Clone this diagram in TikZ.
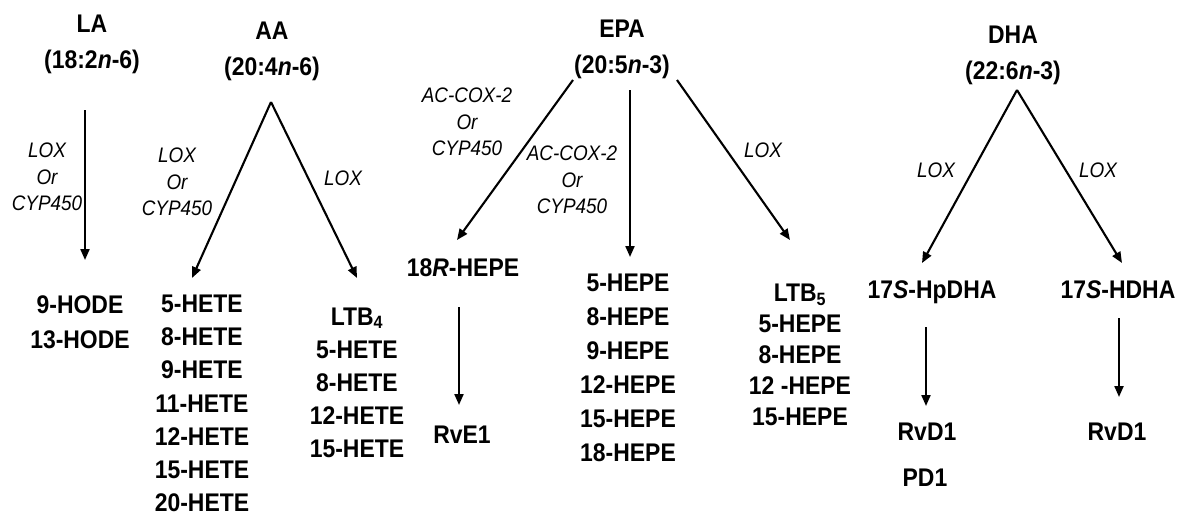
\documentclass[tikz,border=0pt]{standalone}
\usepackage{fontspec}
\setmainfont{Liberation Sans}[FakeStretch = 0.9]
\usetikzlibrary{arrows.meta}
\tikzset{
	acid/.style = {font = \fontsize{25.5}{36}\selectfont\bfseries, align = center, inner sep = 0pt},
	prod/.style = {font = \fontsize{25.5}{#1}\selectfont\bfseries, align = center, inner sep = 0pt},
	prod/.default = 33.5,
	enz/.style = {font = \fontsize{21}{26.5}\selectfont\itshape, align = center, inner sep = 0pt},
	conv/.style = {-{Triangle[length = 11pt, width = 9pt]}, line width = 2.1pt}
}
\begin{document}
\begin{tikzpicture}[x = 1pt, y = -1pt]
	\useasboundingbox (0,0) rectangle (1181,517);
	% fatty acids
	\node [acid] (la) at (92,44) {LA\\(18:2\textit{n}-6)};
	\node [acid] (aa) at (272,51) {AA\\(20:4\textit{n}-6)};
	\node [acid] (epa) at (622,49) {EPA\\(20:5\textit{n}-3)};
	\node [acid] (dha) at (1013,55) {DHA\\(22:6\textit{n}-3)};
	% LA
	\coordinate (la top) at (85,110);
	\coordinate (la end) at (85,260);
	\draw [conv] (la top) -- (la end);
	\node [enz] (la enz) at (47,177) {LOX\\Or\\CYP450};
	\node [prod = 35] (hode) at (80,322.5) {9-HODE\\13-HODE};
	% AA
	\coordinate (aa top) at (271,102);
	\coordinate (aa left) at (192,278);
	\coordinate (aa right) at (357,278);
	\draw [conv] (aa top) -- (aa left);
	\draw [conv] (aa top) -- (aa right);
	\node [enz] (aa enz1) at (177,182) {LOX\\Or\\CYP450};
	\node [enz] (aa enz2) at (343,178) {LOX};
	\node [prod = 33.2] (hete) at (202,403.5) {5-HETE\\8-HETE\\9-HETE\\11-HETE\\12-HETE\\15-HETE\\20-HETE};
	\node [prod = 33] (ltbfour) at (357,382.5) {LTB\textsubscript{4}\\5-HETE\\8-HETE\\12-HETE\\15-HETE};
	% EPA
	\coordinate (epa l0) at (573,80);
	\coordinate (epa l1) at (457,240);
	\coordinate (epa m0) at (630,90);
	\coordinate (epa m1) at (630,257);
	\coordinate (epa r0) at (677,80);
	\coordinate (epa r1) at (790,240);
	\draw [conv] (epa l0) -- (epa l1);
	\draw [conv] (epa m0) -- (epa m1);
	\draw [conv] (epa r0) -- (epa r1);
	\node [enz] (epa enz1) at (467,122) {AC-COX-2\\Or\\CYP450};
	\node [enz] (epa enz2) at (572,180) {AC-COX-2\\Or\\CYP450};
	\node [enz] (epa enz3) at (763,150) {LOX};
	\node [prod, anchor = base] (hepe18r) at (463,276) {18\textit{R}-HEPE};
	\coordinate (rve top) at (459,307);
	\coordinate (rve end) at (459,405);
	\draw [conv] (rve top) -- (rve end);
	\node [prod, anchor = base] (rve) at (462,443) {RvE1};
	\node [prod = 34] (hepe) at (628,367.5) {5-HEPE\\8-HEPE\\9-HEPE\\12-HEPE\\15-HEPE\\18-HEPE};
	\node [prod = 31] (ltbfive) at (800,355) {LTB\textsubscript{5}\\5-HEPE\\8-HEPE\\12 -HEPE\\15-HEPE};
	% DHA
	\coordinate (dha top) at (1017,90);
	\coordinate (dha left) at (922,263);
	\coordinate (dha right) at (1122,263);
	\draw [conv] (dha top) -- (dha left);
	\draw [conv] (dha top) -- (dha right);
	\node [enz] (dha enz1) at (936,170) {LOX};
	\node [enz] (dha enz2) at (1098,170) {LOX};
	\node [prod, anchor = base] (hpdha) at (932,298) {17\textit{S}-HpDHA};
	\node [prod, anchor = base] (hdha) at (1118,298) {17\textit{S}-HDHA};
	\coordinate (hp top) at (926,327);
	\coordinate (hp end) at (926,406);
	\coordinate (hd top) at (1119,318);
	\coordinate (hd end) at (1119,397);
	\draw [conv] (hp top) -- (hp end);
	\draw [conv] (hd top) -- (hd end);
	\node [prod, anchor = base] (rvd) at (927,440) {RvD1};
	\node [prod, anchor = base] (pd) at (925,486) {PD1};
	\node [prod, anchor = base] (rvd2) at (1117,440) {RvD1};
\end{tikzpicture}
\end{document}
